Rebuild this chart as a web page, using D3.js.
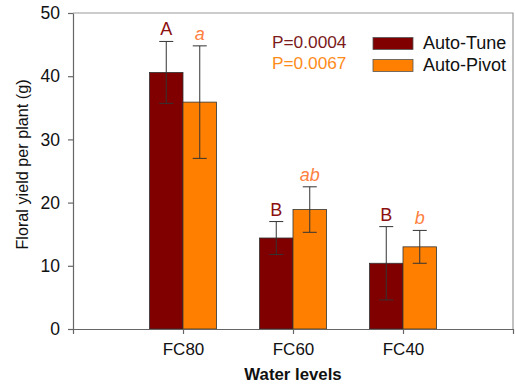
<!DOCTYPE html>
<html>
<head>
<meta charset="utf-8">
<script src="https://cdn.jsdelivr.net/npm/d3@7"></script>
<style>
  body { margin: 0; background: #fff; }
  text { font-family: "Liberation Sans", Arial, sans-serif; }
</style>
</head>
<body>
<div id="chart"></div>
<script>
// data
var levels = ["FC80", "FC60", "FC40"]
var series = ["Auto-Tune", "Auto-Pivot"]
var tuneMean = [40.6, 14.4, 10.4]
var tuneErr = [4.9, 2.6, 5.8]
var pivotMean = [35.9, 18.9, 13.0]
var pivotErr = [8.9, 3.6, 2.6]
var tuneLetters = ["A", "B", "B"]
var pivotLetters = ["a", "ab", "b"]
var pValues = ["P=0.0004", "P=0.0067"]
var yTicks = [0, 10, 20, 30, 40, 50]

function run() {
    const width = 515
    const height = 391
    margin = ({ top: 13, right: 2, bottom: 62, left: 73 })

    color = d3.scaleOrdinal(series, ["#800000", "#ff8000"])
    letterColor = d3.scaleOrdinal(series, ["#8b1010", "#ff8040"])
    pColor = d3.scaleOrdinal(series, ["#7b1a1a", "#ff8c1a"])

    var rows = []
    levels.forEach((lv, i) => {
        rows.push({ level: lv, s: series[0], mean: tuneMean[i], err: tuneErr[i], letter: tuneLetters[i], italic: false })
        rows.push({ level: lv, s: series[1], mean: pivotMean[i], err: pivotErr[i], letter: pivotLetters[i], italic: true })
    })

    var x = d3.scalePoint()
        .domain(levels)
        .range([margin.left, width - margin.right])
        .padding(1)

    var xs = d3.scaleBand()
        .domain(series)
        .range([-33.5, 33.5])

    var y = d3.scaleLinear()
        .domain([0, 50])
        .range([height - margin.bottom, margin.top])

    var svg = d3.select('#chart')
        .append("svg")
        .attr('width', width)
        .attr('height', height)

    // frame top and right
    svg.append("path")
        .attr("d", `M${margin.left},${margin.top}H${width - margin.right}V${height - margin.bottom}`)
        .attr("fill", "none")
        .attr("stroke", "#999")
        .attr("stroke-width", 1.2)

    // bars
    svg.append("g")
        .selectAll("rect")
        .data(rows)
        .join("rect")
        .attr("x", d => x(d.level) + xs(d.s))
        .attr("y", d => y(d.mean))
        .attr("width", xs.bandwidth())
        .attr("height", d => y(0) - y(d.mean))
        .attr("fill", d => color(d.s))
        .attr("stroke", "#333")
        .attr("stroke-width", 0.8)

    // error bars
    var eb = svg.append("g")
        .attr("stroke", "#333")
        .attr("stroke-width", 1)
        .selectAll("g")
        .data(rows)
        .join("g")
        .attr("transform", d => `translate(${x(d.level) + xs(d.s) + xs.bandwidth() / 2},0)`)
    eb.append("line")
        .attr("y1", d => y(d.mean + d.err))
        .attr("y2", d => y(d.mean - d.err))
    eb.append("line")
        .attr("x1", -7).attr("x2", 7)
        .attr("y1", d => y(d.mean + d.err))
        .attr("y2", d => y(d.mean + d.err))
    eb.append("line")
        .attr("x1", -7).attr("x2", 7)
        .attr("y1", d => y(d.mean - d.err))
        .attr("y2", d => y(d.mean - d.err))

    // significance letters
    svg.append("g")
        .selectAll("text")
        .data(rows)
        .join("text")
        .attr("x", d => x(d.level) + xs(d.s) + xs.bandwidth() / 2)
        .attr("y", d => y(d.mean + d.err) - 6)
        .attr("text-anchor", "middle")
        .attr("font-size", 18)
        .attr("font-style", d => d.italic ? "italic" : "normal")
        .attr("fill", d => letterColor(d.s))
        .text(d => d.letter)

    // axes
    svg.append("g")
        .attr("transform", `translate(${margin.left},0)`)
        .call(d3.axisLeft(y).tickValues(yTicks).tickSize(5).tickSizeOuter(0).tickPadding(8))
        .call(g => g.selectAll("line, path").attr("stroke", "#666").attr("stroke-width", 1.2))
        .call(g => g.selectAll("text").attr("font-size", 17.5).attr("fill", "#111")
            .attr("font-family", "'Liberation Sans', Arial, sans-serif"))

    svg.append("g")
        .attr("transform", `translate(0,${height - margin.bottom})`)
        .call(d3.axisBottom(x).tickSize(5).tickSizeOuter(5).tickPadding(9))
        .call(g => g.selectAll("line, path").attr("stroke", "#666").attr("stroke-width", 1.2))
        .call(g => g.selectAll("text").attr("font-size", 17).attr("fill", "#111")
            .attr("font-family", "'Liberation Sans', Arial, sans-serif"))

    // axis titles
    svg.append("text")
        .attr("transform", `translate(27.5,164.5) rotate(-90)`)
        .attr("text-anchor", "middle")
        .attr("font-size", 16.2)
        .attr("fill", "#111")
        .text("Floral yield per plant (g)")

    svg.append("text")
        .attr("x", x("FC60"))
        .attr("y", 380)
        .attr("text-anchor", "middle")
        .attr("font-size", 16.8)
        .attr("font-weight", "bold")
        .attr("fill", "#111")
        .text("Water levels")

    // P values
    svg.append("g")
        .selectAll("text")
        .data(series)
        .join("text")
        .attr("x", 272)
        .attr("y", (d, i) => 48 + i * 20.5)
        .attr("font-size", 17.3)
        .attr("fill", d => pColor(d))
        .text((d, i) => pValues[i])

    // legend
    var item = svg.append("g")
        .selectAll("g")
        .data(series)
        .join("g")
        .attr("transform", (d, i) => `translate(373,${37.5 + i * 22})`)
    item.append("rect")
        .attr("width", 40)
        .attr("height", 12)
        .attr("fill", d => color(d))
        .attr("stroke", "#555")
        .attr("stroke-width", 0.8)
    item.append("text")
        .attr("x", 50)
        .attr("y", 11.5)
        .attr("font-size", 18)
        .attr("fill", "#111")
        .text(d => d)
}

run()
</script>
</body>
</html>
